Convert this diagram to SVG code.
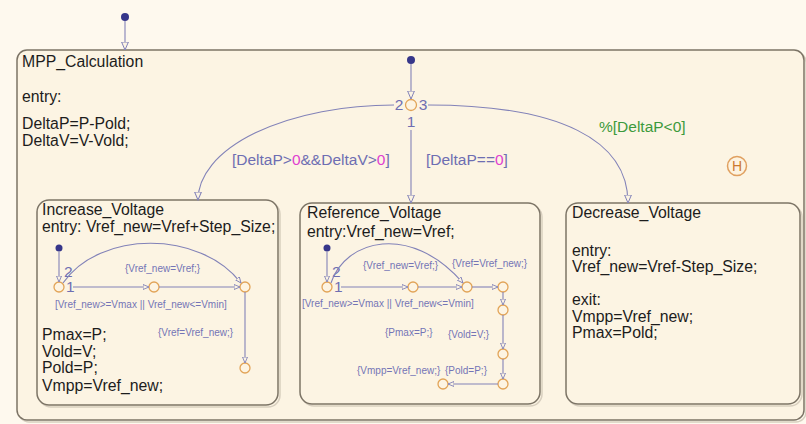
<svg xmlns="http://www.w3.org/2000/svg" width="806" height="424" viewBox="0 0 806 424">
  <defs>
    <style>
      .txt { font-family: "Liberation Sans", Arial, sans-serif; font-size: 15.8px; fill: #1c1c1c; }
      .lbl { font-family: "Liberation Sans", Arial, sans-serif; font-size: 15.5px; fill: #6e6eb2; }
      .sml { font-family: "Liberation Sans", Arial, sans-serif; font-size: 10px; fill: #7474b6; }
      .num { fill: #e040d0; }
      .grn { font-family: "Liberation Sans", Arial, sans-serif; font-size: 15.5px; fill: #3c9a3c; }
      .state { fill: #fcf4e3; stroke: #7c7466; stroke-width: 1.5; }
      .shadow { fill: none; stroke: #d8cfbf; stroke-width: 1.5; }
      .tr { fill: none; stroke: #8282b8; stroke-width: 1.1; }
      .junc { fill: #fdf4e2; stroke: #e2a458; stroke-width: 1.3; }
      .dot { fill: #36368a; }
    </style>
    <marker id="arr" markerUnits="userSpaceOnUse" markerWidth="9" markerHeight="9" refX="8" refY="4" orient="auto">
      <path d="M0,0.6 L8,4 L0,7.4 Z" fill="#fcf4e3" stroke="#8282b8" stroke-width="1"/>
    </marker>
    <marker id="arrS" markerUnits="userSpaceOnUse" markerWidth="7" markerHeight="7" refX="6" refY="3" orient="auto">
      <path d="M0,0.5 L6,3 L0,5.5 Z" fill="#fcf4e3" stroke="#8282b8" stroke-width="0.9"/>
    </marker>
  </defs>

  <!-- canvas -->
  <rect x="0" y="0" width="806" height="424" fill="#fef9ee"/>

  <!-- superstate -->
  <g id="MPP_Calculation">
    <rect class="shadow" x="19" y="52" width="787" height="370" rx="10"/>
    <rect class="state" x="17" y="50" width="787" height="370" rx="10"/>
    <text class="txt" x="22" y="67">MPP_Calculation</text>
    <text class="txt" x="22" y="102">entry:</text>
    <text class="txt" x="22" y="129">DeltaP=P-Pold;</text>
    <text class="txt" x="22" y="146">DeltaV=V-Vold;</text>
  </g>

  <!-- default transition into the superstate -->
  <g id="default_top">
    <circle class="dot" cx="125" cy="17" r="4"/>
  </g>

  <!-- default transition inside the superstate and decision junction -->
  <g id="default_inner">
    <circle class="dot" cx="411" cy="60" r="4"/>
  </g>
  <g id="decision_junction">
    <circle class="junc" cx="411" cy="105" r="5.5"/>
    <text class="lbl" x="399" y="110" text-anchor="middle" font-size="14">2</text>
    <text class="lbl" x="423" y="110" text-anchor="middle" font-size="14">3</text>
    <text class="lbl" x="411" y="127" text-anchor="middle" font-size="14">1</text>
  </g>

  <!-- history junction -->
  <g id="history">
    <circle cx="737" cy="166" r="9.5" fill="#fdf3e0" stroke="#e0a060" stroke-width="1.5"/>
    <text x="737" y="171" text-anchor="middle" font-family="Liberation Sans, Arial, sans-serif" font-size="14" fill="#cc7a30">H</text>
  </g>

  <!-- Increase_Voltage -->
  <g id="Increase_Voltage">
    <rect class="shadow" x="39" y="202" width="241" height="205" rx="12"/>
    <rect class="state" x="37" y="200" width="241" height="205" rx="12"/>
    <text class="txt" x="42" y="215">Increase_Voltage</text>
    <text class="txt" x="42" y="232">entry: Vref_new=Vref+Step_Size;</text>
    <text class="txt" x="42" y="340">Pmax=P;</text>
    <text class="txt" x="42" y="357">Vold=V;</text>
    <text class="txt" x="42" y="373">Pold=P;</text>
    <text class="txt" x="42" y="391">Vmpp=Vref_new;</text>
    <circle class="dot" cx="59" cy="248" r="3.5"/>
    <circle class="junc" cx="59" cy="287" r="5"/>
    <circle class="junc" cx="154" cy="287" r="5"/>
    <circle class="junc" cx="245" cy="287" r="5"/>
    <circle class="junc" cx="245" cy="368" r="5"/>
    <text class="lbl" x="64" y="277" font-size="9">2</text>
    <text class="lbl" x="66" y="292" font-size="9">1</text>
  </g>

  <!-- Reference_Voltage -->
  <g id="Reference_Voltage">
    <rect class="shadow" x="302" y="205" width="240" height="201" rx="12"/>
    <rect class="state" x="300" y="203" width="240" height="201" rx="12"/>
    <text class="txt" x="307" y="218">Reference_Voltage</text>
    <text class="txt" x="307" y="237">entry:Vref_new=Vref;</text>
    <circle class="dot" cx="327" cy="248" r="3.5"/>
    <circle class="junc" cx="327" cy="287" r="5"/>
    <circle class="junc" cx="413" cy="287" r="5"/>
    <circle class="junc" cx="467" cy="287" r="5"/>
    <circle class="junc" cx="503" cy="287" r="5"/>
    <circle class="junc" cx="503" cy="310" r="5"/>
    <circle class="junc" cx="503" cy="354" r="5"/>
    <circle class="junc" cx="503" cy="384" r="5"/>
    <circle class="junc" cx="443" cy="384" r="5"/>
    <text class="lbl" x="332" y="277" font-size="9">2</text>
    <text class="lbl" x="334" y="292" font-size="9">1</text>
  </g>

  <!-- Decrease_Voltage -->
  <g id="Decrease_Voltage">
    <rect class="shadow" x="568" y="205" width="234" height="201" rx="12"/>
    <rect class="state" x="566" y="203" width="234" height="201" rx="12"/>
    <text class="txt" x="572" y="218">Decrease_Voltage</text>
    <text class="txt" x="572" y="256">entry:</text>
    <text class="txt" x="572" y="272">Vref_new=Vref-Step_Size;</text>
    <text class="txt" x="572" y="305">exit:</text>
    <text class="txt" x="572" y="322">Vmpp=Vref_new;</text>
    <text class="txt" x="572" y="338">Pmax=Pold;</text>
  </g>

  <!-- transitions -->
  <g id="connectors">
    <path class="tr" d="M125,21 L125,50" marker-end="url(#arr)"/>
    <path class="tr" d="M411,64 L411,99" marker-end="url(#arr)"/>
    <path class="tr" d="M394,105 A196,95 0 0 0 198,200" marker-end="url(#arr)"/>
    <path class="tr" d="M411,130 L411,203" marker-end="url(#arr)"/>
    <path class="tr" d="M428,105 C560,105 628,140 628,203" marker-end="url(#arr)"/>

    <!-- inside Increase_Voltage -->
    <path class="tr" d="M59,251.5 L59,282" marker-end="url(#arrS)"/>
    <path class="tr" d="M63,283 C100,230 200,230 241,283" marker-end="url(#arrS)"/>
    <path class="tr" d="M73,287 L149,287" marker-end="url(#arrS)"/>
    <path class="tr" d="M159,287 L240,287" marker-end="url(#arrS)"/>
    <path class="tr" d="M245,292 L245,363" marker-end="url(#arrS)"/>

    <!-- inside Reference_Voltage -->
    <path class="tr" d="M327,251.5 L327,282" marker-end="url(#arrS)"/>
    <path class="tr" d="M331,283 C345,240 410,222 463,283" marker-end="url(#arrS)"/>
    <path class="tr" d="M341,287 L408,287" marker-end="url(#arrS)"/>
    <path class="tr" d="M418,287 L462,287" marker-end="url(#arrS)"/>
    <path class="tr" d="M472,287 L498,287" marker-end="url(#arrS)"/>
    <path class="tr" d="M503,292 L503,305" marker-end="url(#arrS)"/>
    <path class="tr" d="M503,315 L503,349" marker-end="url(#arrS)"/>
    <path class="tr" d="M503,359 L503,379" marker-end="url(#arrS)"/>
    <path class="tr" d="M498,384 L448,384" marker-end="url(#arrS)"/>
  </g>

  <!-- transition labels -->
  <g id="labels">
    <text class="lbl" x="232" y="165">[DeltaP&gt;<tspan class="num">0</tspan>&amp;&amp;DeltaV&gt;<tspan class="num">0</tspan>]</text>
    <text class="lbl" x="426" y="165">[DeltaP==<tspan class="num">0</tspan>]</text>
    <text class="grn" x="599" y="132">%[DeltaP&lt;0]</text>

    <text class="sml" x="125" y="271.5">{Vref_new=Vref;}</text>
    <text class="sml" x="55" y="307.5">[Vref_new&gt;=Vmax || Vref_new&lt;=Vmin]</text>
    <text class="sml" x="158" y="335.5">{Vref=Vref_new;}</text>

    <text class="sml" x="363" y="268.5">{Vref_new=Vref;}</text>
    <text class="sml" x="452" y="266.5">{Vref=Vref_new;}</text>
    <text class="sml" x="302" y="306.5">[Vref_new&gt;=Vmax || Vref_new&lt;=Vmin]</text>
    <text class="sml" x="385" y="335.5">{Pmax=P;}</text>
    <text class="sml" x="448" y="337.5">{Vold=V;}</text>
    <text class="sml" x="357" y="373.5">{Vmpp=Vref_new;}</text>
    <text class="sml" x="445" y="373.5">{Pold=P;}</text>
  </g>
</svg>
